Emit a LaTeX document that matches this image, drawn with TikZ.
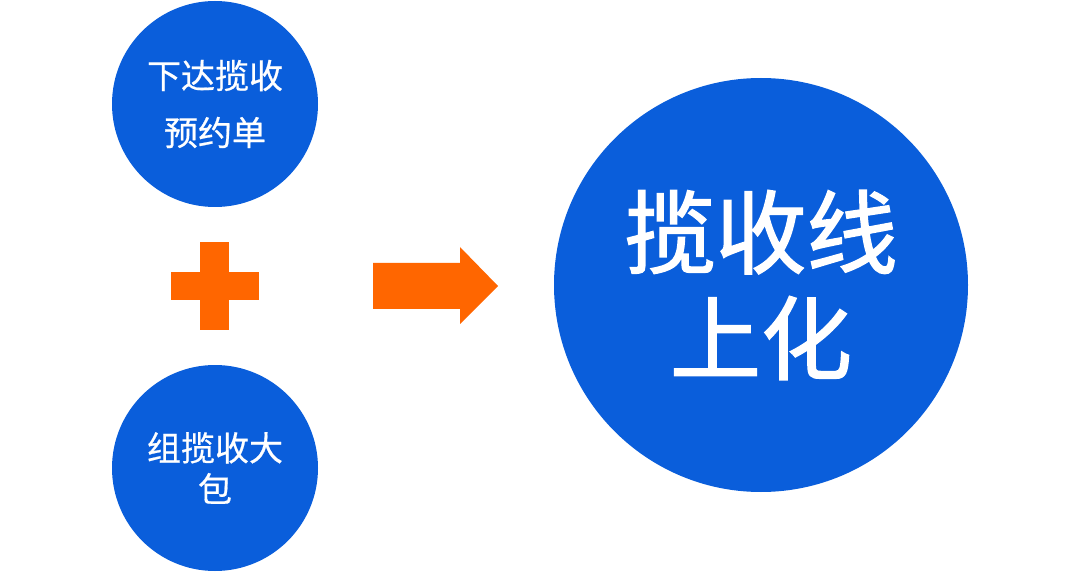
\documentclass[tikz,border=0pt]{standalone}
\usepackage{fontspec}
\newfontfamily\cjk{Noto Sans CJK SC}
\newfontfamily\cjkmid{Noto Sans CJK SC}[FakeBold=0.6]
\newfontfamily\cjkheavy{Noto Sans CJK SC}[FakeBold=1.6]
\definecolor{dotblue}{RGB}{10,94,219}
\definecolor{plusorange}{RGB}{255,102,0}
\begin{document}
\begin{tikzpicture}[x=1pt,y=-1pt,
  bubble/.style={circle,fill=dotblue,draw=none,inner sep=0pt,text=white,align=center},
  smalltext/.style={font=\cjkmid\fontsize{34}{57}\selectfont},
  bigtext/.style={font=\cjkheavy\fontsize{91}{106}\selectfont}]
\useasboundingbox[fill=white] (0,0) rectangle (1080,572);
\node[bubble,minimum size=206pt,smalltext] (order) at (215,104) {下达揽收\\预约单};
\node[bubble,minimum size=206pt,font=\cjkmid\fontsize{34}{41}\selectfont] (pack) at (215,468) {组揽收大\\包};
\node[bubble,minimum size=414pt,bigtext] (online) at (761,285) {揽收线\\上化};
% plus sign
\fill[plusorange] (200,242) rectangle (229,330);
\fill[plusorange] (171,272) rectangle (259,300);
% block arrow
\fill[plusorange] (373,263) -- (460,263) -- (460,247) -- (498,286) -- (460,324) -- (460,309) -- (373,309) -- cycle;
\end{tikzpicture}
\end{document}
